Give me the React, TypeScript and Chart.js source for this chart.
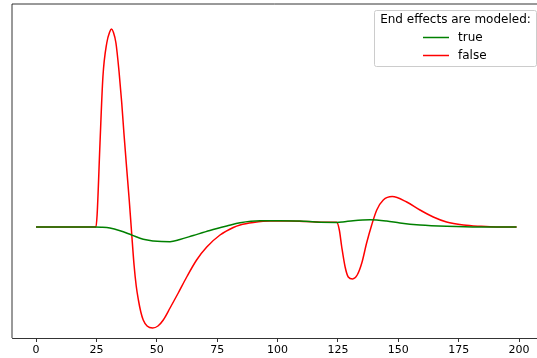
import React, { useEffect, useRef } from "react";
import { Chart, registerables } from "chart.js";

Chart.register(...registerables);

const legendTitle = "End effects are modeled:";
const seriesLabels = ["true", "false"];
const xTicks = [0, 25, 50, 75, 100, 125, 150, 175, 200];

const greenX = [0, 10, 20, 24.4, 27, 30.6, 34.8, 39.6, 44.4, 48.6, 52, 55.5, 59.6, 65.1, 72, 79, 84.5, 92.8, 101, 109.3, 117.6, 124.5, 127, 131.3, 138.3, 145.2, 150.7, 159, 170, 183.8, 199];
const greenY = [0, 0, 0, 0, -0.002, -0.01, -0.037, -0.08, -0.123, -0.14, -0.146, -0.147, -0.125, -0.085, -0.035, 0.01, 0.043, 0.063, 0.063, 0.06, 0.047, 0.046, 0.05, 0.063, 0.073, 0.06, 0.04, 0.02, 0.007, 0, 0];

const redX = [0, 10, 20, 24.8, 25.3, 26.5, 27.7, 29.3, 30.5, 31.3, 32, 33.1, 34.4, 35.5, 36.4, 37.5, 38.6, 39.6, 40.6, 41.5, 42.4, 43.4, 44.4, 46, 48.3, 50.5, 52.7, 55.5, 58.9, 62.4, 66.5, 70.7, 76.2, 81.7, 84.5, 90, 97, 105, 112, 118, 124.5, 125.6, 126.6, 128, 129.3, 131.1, 133, 134.9, 136.9, 139, 141.1, 143.8, 147.5, 153.5, 159, 164.5, 170, 177, 183.8, 190.7, 199];
const redY = [0, 0, 0, 0, 0.12, 0.84, 1.5, 1.84, 1.95, 1.98, 1.95, 1.84, 1.55, 1.24, 0.94, 0.6, 0.27, -0.06, -0.38, -0.59, -0.73, -0.85, -0.93, -0.99, -1.01, -0.99, -0.93, -0.81, -0.66, -0.5, -0.33, -0.2, -0.08, -0.005, 0.02, 0.045, 0.06, 0.06, 0.055, 0.048, 0.047, -0.03, -0.2, -0.4, -0.5, -0.52, -0.48, -0.36, -0.16, 0.02, 0.17, 0.27, 0.305, 0.25, 0.17, 0.1, 0.05, 0.02, 0.007, 0, 0];

const toPoints = (xs: number[], ys: number[]) => xs.map((x, i) => ({ x, y: ys[i] }));

const spinesAndLegend = {
  id: "spinesAndLegend",
  afterDraw(chart: any) {
    const ctx = chart.ctx;
    const a = chart.chartArea;
    ctx.save();
    ctx.strokeStyle = "#000";
    ctx.lineWidth = 0.8;
    ctx.beginPath();
    ctx.moveTo(a.left, a.bottom);
    ctx.lineTo(a.left, a.top);
    ctx.lineTo(chart.width, a.top);
    ctx.stroke();

    // legend box
    const bx = 374.5, by = 10.5, bw = 162, bh = 56, r = 2;
    ctx.fillStyle = "rgba(255,255,255,0.8)";
    ctx.strokeStyle = "#cccccc";
    ctx.lineWidth = 1;
    ctx.beginPath();
    ctx.moveTo(bx + r, by);
    ctx.lineTo(bx + bw - r, by);
    ctx.quadraticCurveTo(bx + bw, by, bx + bw, by + r);
    ctx.lineTo(bx + bw, by + bh - r);
    ctx.quadraticCurveTo(bx + bw, by + bh, bx + bw - r, by + bh);
    ctx.lineTo(bx + r, by + bh);
    ctx.quadraticCurveTo(bx, by + bh, bx, by + bh - r);
    ctx.lineTo(bx, by + r);
    ctx.quadraticCurveTo(bx, by, bx + r, by);
    ctx.closePath();
    ctx.fill();
    ctx.stroke();

    ctx.fillStyle = "#000";
    ctx.font = "12px 'DejaVu Sans'";
    ctx.textBaseline = "middle";
    ctx.textAlign = "center";
    ctx.fillText(legendTitle, bx + bw / 2, 19.5);
    ctx.textAlign = "left";
    chart.data.datasets.forEach((ds: any, i: number) => {
      const y = 37.5 + i * 18;
      ctx.strokeStyle = ds.borderColor;
      ctx.lineWidth = 1.5;
      ctx.beginPath();
      ctx.moveTo(423, y);
      ctx.lineTo(449, y);
      ctx.stroke();
      ctx.fillStyle = "#000";
      ctx.fillText(ds.label, 458, y);
    });
    ctx.restore();
  },
};

export default function App() {
  const ref = useRef<HTMLCanvasElement>(null);
  useEffect(() => {
    const chart = new Chart(ref.current as HTMLCanvasElement, {
      type: "line",
      data: {
        datasets: [
          {
            label: seriesLabels[0],
            data: toPoints(greenX, greenY),
            borderColor: "#008000",
            borderWidth: 1.5,
            pointRadius: 0,
            cubicInterpolationMode: "monotone",
            fill: false,
          },
          {
            label: seriesLabels[1],
            data: toPoints(redX, redY),
            borderColor: "#ff0000",
            borderWidth: 1.5,
            pointRadius: 0,
            cubicInterpolationMode: "monotone",
            fill: false,
          },
        ],
      },
      options: {
        animation: false,
        responsive: false,
        layout: { padding: { left: 12, top: 4, right: 0, bottom: 0 } },
        plugins: { legend: { display: false }, tooltip: { enabled: false } },
        scales: {
          x: {
            type: "linear",
            min: -9.94,
            max: 207.45,
            afterBuildTicks: (s: any) => {
              s.ticks = xTicks.map((v) => ({ value: v }));
            },
            afterFit: (s: any) => {
              s.height = 20;
            },
            grid: { drawOnChartArea: false, drawTicks: true, tickLength: 4, color: "#000", lineWidth: 0.8 },
            border: { display: true, color: "#000", width: 0.8 },
            ticks: {
              autoSkip: false,
              maxRotation: 0,
              padding: 2,
              color: "#000",
              font: { family: "'DejaVu Sans'", size: 11 },
            },
          },
          y: {
            display: false,
            min: -1.11,
            max: 2.23,
          },
        },
      },
      plugins: [spinesAndLegend],
    } as any);
    return () => chart.destroy();
  }, []);
  return (
    <div style={{ position: "absolute", left: 0, top: 0, width: 537, height: 358, background: "#fff" }}>
      <canvas ref={ref} width={537} height={358} />
    </div>
  );
}
